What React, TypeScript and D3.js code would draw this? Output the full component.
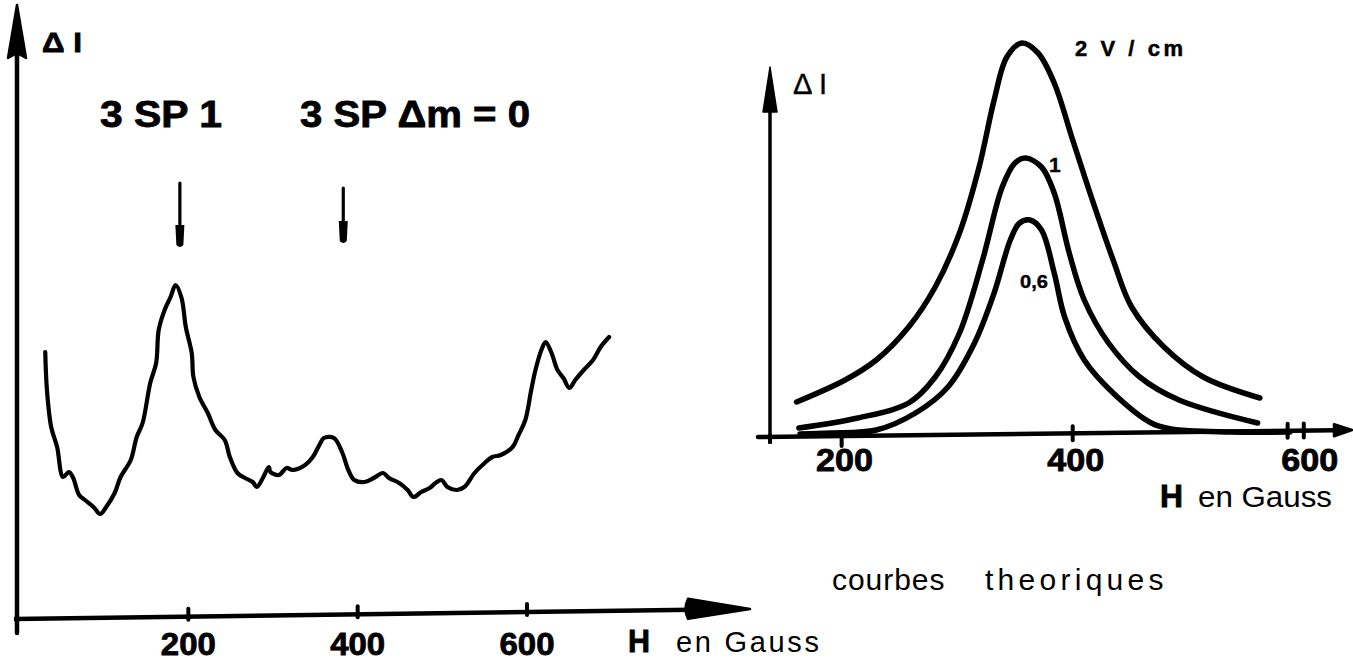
import React from "react";
import * as d3 from "d3";

// ---------- DATA ----------
// Left panel: experimental ΔI (arb. units) vs H (Gauss)
const leftTickValues = [200, 400, 600];
const experimentalH = [
  31, 33, 38, 45, 52, 59, 64, 71, 78, 88, 96, 103, 113, 120, 132, 139, 146, 155, 162, 165,
  172, 179, 185, 192, 197, 204, 206, 213, 223, 232, 243, 249, 258, 267, 276, 281, 288, 295,
  297, 307, 316, 323, 338, 347, 356, 360, 372, 382, 389, 396, 408, 419, 430, 437, 449, 459,
  466, 475, 485, 492, 499, 506, 517, 526, 538, 550, 559, 569, 583, 590, 598, 605, 610, 617,
  622, 629, 636, 643, 650, 657, 667, 678, 687, 697,
];
const experimentalDI = [
  268, 230, 193, 173, 143, 148, 142, 125, 120, 113, 106, 113, 127, 143, 160, 183, 197, 237, 257, 290,
  310, 323, 335, 322, 293, 267, 243, 223, 207, 190, 180, 163, 147, 142, 138, 133, 142, 153,
  148, 145, 152, 150, 155, 163, 177, 182, 182, 167, 150, 140, 138, 142, 147, 142, 137, 130,
  123, 128, 132, 137, 140, 133, 130, 133, 147, 157, 163, 165, 173, 185, 200, 230, 250, 270,
  278, 267, 250, 242, 232, 240, 250, 260, 273, 283,
];
const peakLabels = ["3 SP 1", "3 SP  \u0394m = 0"];
const peakPositions = [190, 383];

// Right panel: theoretical curves
const rightTickValues = [200, 400, 600];
const rightTickMarks = [200, 400, 586, 600];
const curveLabels = ["2 V / cm", "1", "0,6"];
const curve2H = [161, 203, 230, 258, 281, 302, 319, 332, 343, 356, 370, 384, 400, 417, 435, 451, 479, 513, 562];
const curve2DI = [33, 55, 75, 108, 148, 202, 268, 335, 378, 392, 382, 352, 295, 235, 175, 128, 88, 58, 37];
const curve1H = [163, 214, 258, 281, 302, 322, 339, 350, 359, 373, 384, 397, 410, 431, 458, 492, 560];
const curve1DI = [7, 17, 32, 58, 102, 175, 248, 272, 277, 268, 242, 182, 135, 92, 58, 35, 12];
const curve06H = [164, 190, 230, 264, 292, 315, 332, 346, 354, 363, 373, 384, 393, 410, 435, 468, 485, 536, 588];
const curve06DI = [1, 2, 5, 22, 48, 92, 142, 195, 212, 215, 205, 162, 118, 75, 42, 12, 6, 3, 3];
const captionWords = ["courbes", "theoriques"];

// ---------- COMPONENT ----------
const FONT = "'Liberation Sans', Arial, Helvetica, sans-serif";

export default function App() {
  // left scales
  const xL = d3.scaleLinear().domain([0, 600]).range([19, 527]);
  const yL = d3.scaleLinear().domain([0, 600]).range([620, 20]);
  // right scales
  const xR = d3.scaleLinear().domain([138, 640]).range([770, 1350]);
  const yR = d3.scaleLinear().domain([0, 400]).range([435, 35]);

  const zip = (a: number[], b: number[]) => a.map((v, i) => [v, b[i]] as [number, number]);

  const lineL = d3
    .line<[number, number]>()
    .x((d) => xL(d[0]))
    .y((d) => yL(d[1]))
    .curve(d3.curveCatmullRom.alpha(0.5));
  const lineR = d3
    .line<[number, number]>()
    .x((d) => xR(d[0]))
    .y((d) => yR(d[1]))
    .curve(d3.curveCatmullRom.alpha(0.5));

  // left x axis is slightly tilted (hand drawn)
  const axL0 = { x: 14, y: 619 };
  const axL1 = { x: 750, y: 609 };
  const axLY = (x: number) => axL0.y + ((x - axL0.x) * (axL1.y - axL0.y)) / (axL1.x - axL0.x);
  const axR0 = { x: 758, y: 437 };
  const axR1 = { x: 1352, y: 430 };
  const axRY = (x: number) => axR0.y + ((x - axR0.x) * (axR1.y - axR0.y)) / (axR1.x - axR0.x);

  const yAxisLX = xL(0) - 2;
  const yAxisRX = xR(138);

  const rightCurves = [
    zip(curve2H, curve2DI),
    zip(curve1H, curve1DI),
    zip(curve06H, curve06DI),
  ];

  const bold = { fontWeight: "bold" as const, stroke: "#000", strokeWidth: 0.8 };

  return (
    <svg
      width={1353}
      height={665}
      style={{ position: "absolute", left: 0, top: 0, background: "#fff" }}
      fontFamily={FONT}
    >
      <rect x={0} y={0} width={1353} height={665} fill="#fff" />

      {/* ===== LEFT PANEL ===== */}
      <line x1={yAxisLX} y1={633} x2={yAxisLX} y2={45} stroke="#000" strokeWidth={4.5} strokeLinecap="round" />
      <path
        d={`M${yAxisLX},5 L${yAxisLX + 9},58 L${yAxisLX},53 L${yAxisLX - 9},58 Z`}
        fill="#000"
        stroke="#000"
        strokeWidth={2.5}
        strokeLinejoin="round"
      />
      <text x={42} y={52} fontSize={28} {...bold} textLength={40} lengthAdjust="spacingAndGlyphs">
        Δ I
      </text>

      <line x1={axL0.x} y1={axL0.y} x2={692} y2={axLY(692)} stroke="#000" strokeWidth={4.5} />
      <path
        d={`M${axL1.x},${axL1.y} L688,${axLY(688) - 11} Q683,${axLY(688)} 688,${axLY(688) + 9} Z`}
        fill="#000"
        stroke="#000"
        strokeWidth={2.5}
        strokeLinejoin="round"
      />
      {leftTickValues.map((t) => (
        <g key={"lt" + t}>
          <line
            x1={xL(t)}
            x2={xL(t)}
            y1={axLY(xL(t)) - 8}
            y2={axLY(xL(t)) + 3}
            stroke="#000"
            strokeWidth={4}
            strokeLinecap="round"
          />
          <text
            x={xL(t)}
            y={655}
            fontSize={31}
            {...bold}
            textAnchor="middle"
            textLength={55}
            lengthAdjust="spacingAndGlyphs"
          >
            {t}
          </text>
        </g>
      ))}
      <text x={628} y={652} fontSize={31} {...bold} textLength={22} lengthAdjust="spacingAndGlyphs">
        H
      </text>
      <text x={676} y={652} fontSize={29} letterSpacing={1} textLength={144} lengthAdjust="spacing">
        en Gauss
      </text>

      <text x={100} y={127} fontSize={36} {...bold} textLength={122} lengthAdjust="spacingAndGlyphs">
        {peakLabels[0]}
      </text>
      <text x={300} y={127} fontSize={36} {...bold} textLength={230} lengthAdjust="spacingAndGlyphs">
        {peakLabels[1]}
      </text>
      {peakPositions.map((h, i) => {
        const x = xL(h);
        const top = i === 0 ? 183 : 188;
        const bot = i === 0 ? 247 : 243;
        return (
          <g key={"pa" + i}>
            <line x1={x} x2={x} y1={top} y2={bot - 6} stroke="#000" strokeWidth={3.2} strokeLinecap="round" />
            <path
              d={`M${x - 4.5},${bot - 22} L${x + 4.5},${bot - 22} L${x + 3.5},${bot - 2} Q${x},${bot + 2} ${x - 3.5},${bot - 2} Z`}
              fill="#000"
            />
          </g>
        );
      })}

      <path
        d={lineL(zip(experimentalH, experimentalDI)) || ""}
        fill="none"
        stroke="#000"
        strokeWidth={4.2}
        strokeLinejoin="round"
        strokeLinecap="round"
      />

      {/* ===== RIGHT PANEL ===== */}
      <line x1={yAxisRX} y1={443} x2={yAxisRX} y2={100} stroke="#000" strokeWidth={3.5} />
      <path
        d={`M${yAxisRX},67 L${yAxisRX + 7},112 L${yAxisRX - 7},112 Z`}
        fill="#000"
        stroke="#000"
        strokeWidth={1.5}
        strokeLinejoin="round"
      />
      <text x={793} y={94} fontSize={29} strokeWidth={0.4} stroke="#000" textLength={34} lengthAdjust="spacingAndGlyphs">
        Δ I
      </text>

      <line x1={axR0.x} y1={axR0.y} x2={1336} y2={axRY(1336)} stroke="#000" strokeWidth={4.5} strokeLinecap="round" />
      <path
        d={`M${axR1.x},${axR1.y} L1334,${axRY(1334) - 6} L1334,${axRY(1334) + 6} Z`}
        fill="#000"
        stroke="#000"
        strokeWidth={2.5}
        strokeLinejoin="round"
      />
      <line x1={yAxisRX} x2={yAxisRX} y1={axRY(yAxisRX) - 3} y2={axRY(yAxisRX) + 7} stroke="#000" strokeWidth={4} />
      {rightTickMarks.map((t) => {
        const x = xR(t);
        const y = axRY(x);
        const up = t === 200 ? 0 : 7;
        const down = t === 200 ? 10 : 7;
        return (
          <line
            key={"rtm" + t}
            x1={x}
            x2={x}
            y1={y - up}
            y2={y + down}
            stroke="#000"
            strokeWidth={4}
            strokeLinecap="round"
          />
        );
      })}
      {rightTickValues.map((t) => (
        <text
          key={"rt" + t}
          x={xR(t) + (t === 600 ? 6 : 3)}
          y={471}
          fontSize={31}
          {...bold}
          textAnchor="middle"
          textLength={57}
          lengthAdjust="spacingAndGlyphs"
        >
          {t}
        </text>
      ))}
      <text x={1160} y={507} fontSize={31} {...bold} textLength={23} lengthAdjust="spacingAndGlyphs">
        H
      </text>
      <text x={1198} y={507} fontSize={30} textLength={134} lengthAdjust="spacingAndGlyphs">
        en Gauss
      </text>

      {rightCurves.map((c, i) => (
        <path
          key={"rc" + i}
          d={lineR(c) || ""}
          fill="none"
          stroke="#000"
          strokeWidth={5.5}
          strokeLinejoin="round"
          strokeLinecap="round"
        />
      ))}
      <text x={1075} y={56} fontSize={22} {...bold} strokeWidth={0.5} textLength={108} lengthAdjust="spacing">
        {curveLabels[0]}
      </text>
      <text x={1049} y={172} fontSize={21} {...bold} strokeWidth={0.4}>
        {curveLabels[1]}
      </text>
      <text x={1020} y={288} fontSize={19} {...bold} strokeWidth={0.4} textLength={28} lengthAdjust="spacingAndGlyphs">
        {curveLabels[2]}
      </text>

      <text x={832} y={590} fontSize={30} letterSpacing={1.5} textLength={114} lengthAdjust="spacing">
        {captionWords[0]}
      </text>
      <text x={985} y={590} fontSize={30} letterSpacing={1.5} textLength={180} lengthAdjust="spacing">
        {captionWords[1]}
      </text>
    </svg>
  );
}
